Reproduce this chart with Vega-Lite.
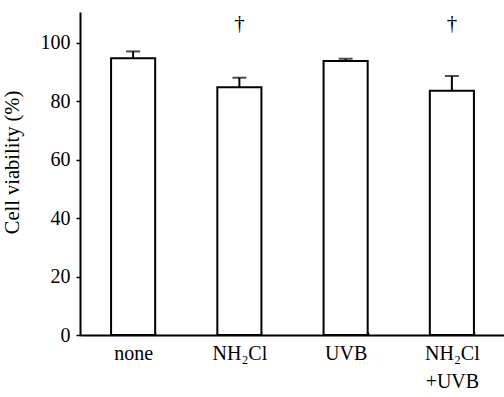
{
  "$schema": "https://vega.github.io/schema/vega-lite/v6.json",
  "autosize": "none",
  "padding": {"left": 80, "top": 12, "right": 0, "bottom": 62},
  "width": 425,
  "height": 323,
  "background": "white",
  "config": {"view": {"stroke": null}, "font": "Liberation Serif"},
  "data": {"values": [
    {"group": "none", "viability": 94.8, "upper": 97.1, "mark": ""},
    {"group": "NH₂Cl", "viability": 84.8, "upper": 88.1, "mark": "†"},
    {"group": "UVB", "viability": 93.8, "upper": 94.6, "mark": ""},
    {"group": "NH₂Cl|+UVB", "viability": 83.6, "upper": 88.7, "mark": "†"}
  ]},
  "encoding": {
    "x": {
      "field": "group", "type": "nominal", "sort": null,
      "scale": {"paddingInner": 0.585, "paddingOuter": 0.2925},
      "axis": {
        "title": null, "labelAngle": 0, "labelFont": "Liberation Serif", "labelFontSize": 20,
        "labelColor": "black", "labelExpr": "split(datum.label, '|')", "labelLineHeight": 28,
        "labelPadding": 11, "tickBand": "extent", "tickSize": -3, "tickColor": "black", "tickWidth": 1.5,
        "domainColor": "black", "domainWidth": 2
      }
    }
  },
  "layer": [
    {
      "mark": {"type": "bar", "fill": "white", "stroke": "black", "strokeWidth": 2},
      "encoding": {
        "y": {
          "field": "viability", "type": "quantitative",
          "scale": {"domain": [0, 110.6], "nice": false},
          "axis": {
            "title": "Cell viability (%)", "titleFont": "Liberation Serif", "titleFontSize": 20.5,
            "titleFontWeight": "normal", "titleColor": "black", "titleX": -58, "titleY": 150,
            "values": [0, 20, 40, 60, 80, 100], "grid": false,
            "labelFont": "Liberation Serif", "labelFontSize": 20, "labelColor": "black",
            "tickSize": 4, "tickColor": "black", "tickWidth": 1.5, "labelPadding": 6,
            "domainColor": "black", "domainWidth": 2
          }
        }
      }
    },
    {
      "mark": {"type": "rule", "stroke": "black", "strokeWidth": 2},
      "encoding": {"y": {"field": "viability", "type": "quantitative"}, "y2": {"field": "upper"}}
    },
    {
      "mark": {"type": "tick", "color": "black", "size": 14, "thickness": 2},
      "encoding": {"y": {"field": "upper", "type": "quantitative"}}
    },
    {
      "mark": {"type": "text", "font": "Liberation Serif", "fontSize": 21, "color": "black", "baseline": "middle"},
      "encoding": {"y": {"datum": 106.5}, "text": {"field": "mark"}}
    }
  ]
}
